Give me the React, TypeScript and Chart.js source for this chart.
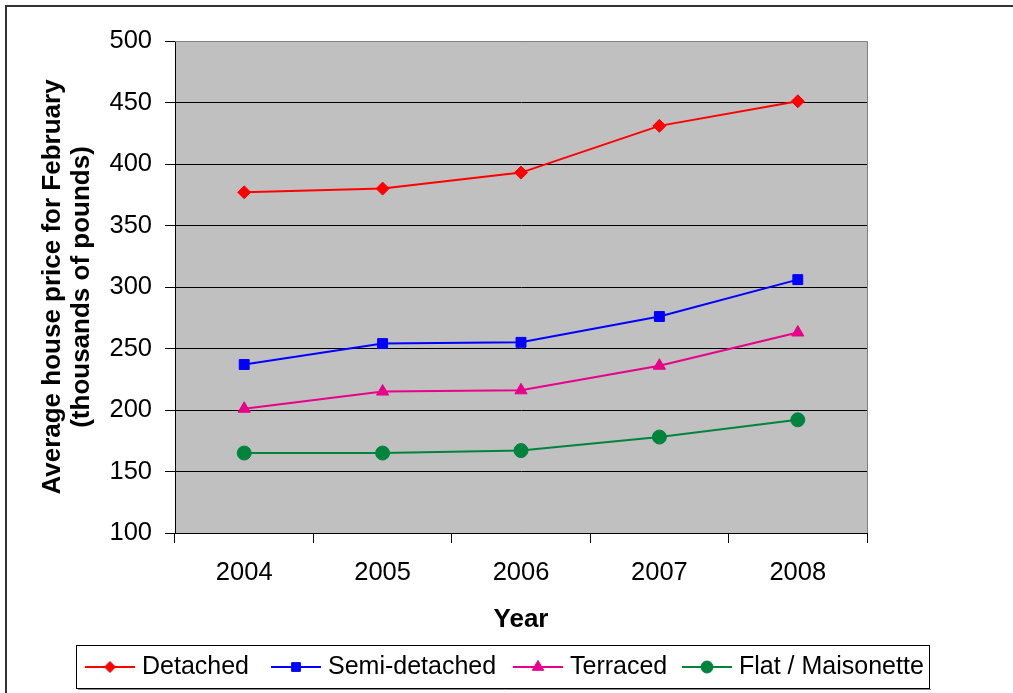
import { useEffect, useRef } from "react";
import { Chart, registerables } from "chart.js";
import { drawPoint } from "chart.js/helpers";

Chart.register(...registerables);

// Average February house prices, thousands of pounds
const years = ["2004", "2005", "2006", "2007", "2008"];
const detached = [377, 380, 393, 431, 451];
const semiDetached = [237, 254, 255, 276, 306];
const terraced = [201, 215, 216, 236, 263];
const flatMaisonette = [165, 165, 167, 178, 192];

const seriesNames = ["Detached", "Semi-detached", "Terraced", "Flat / Maisonette"];
const seriesValues = [detached, semiDetached, terraced, flatMaisonette];
const seriesColors = ["#FF0000", "#0000FF", "#E8008B", "#00843D"];
const seriesMarkers = ["rectRot", "rect", "triangle", "circle"];
const markerRadius = [6.5, 7, 7, 7];
const legendMarkerRadius = [5.5, 6.2, 6.6, 6];

const yMin = 100;
const yMax = 500;
const yStep = 50;
const yTitle = ["Average house price for February", "(thousands of pounds)"];
const xTitle = "Year";

const FONT = '"Liberation Sans", Arial, Helvetica, sans-serif';
const W = 1013;
const H = 693;

// Page background, outer frame and the grey plot area
const framePlugin = {
  id: "frame",
  beforeDraw(chart: any) {
    const { ctx, chartArea } = chart;
    ctx.save();
    ctx.fillStyle = "#FFFFFF";
    ctx.fillRect(0, 0, W, H);
    ctx.strokeStyle = "#333333";
    ctx.lineWidth = 2;
    ctx.beginPath();
    ctx.moveTo(6, H);
    ctx.lineTo(6, 6);
    ctx.lineTo(W, 6);
    ctx.stroke();
    ctx.fillStyle = "#C0C0C0";
    ctx.fillRect(chartArea.left, chartArea.top, chartArea.right - chartArea.left, chartArea.bottom - chartArea.top);
    ctx.restore();
  },
  beforeDatasetsDraw(chart: any) {
    const { ctx, chartArea } = chart;
    ctx.save();
    ctx.strokeStyle = "#808080";
    ctx.lineWidth = 1;
    ctx.beginPath();
    ctx.moveTo(chartArea.left, chartArea.top + 0.5);
    ctx.lineTo(chartArea.right + 0.5, chartArea.top + 0.5);
    ctx.lineTo(chartArea.right + 0.5, chartArea.bottom);
    ctx.stroke();
    ctx.restore();
  },
};

// Boxed legend under the axis title: line sample with marker, then the name
const legendItemX = [85, 271, 513, 682];
const legendPlugin = {
  id: "boxLegend",
  afterDraw(chart: any) {
    const { ctx } = chart;
    const y = 667;
    ctx.save();
    ctx.strokeStyle = "#8A8A8A";
    ctx.lineWidth = 1;
    ctx.beginPath();
    ctx.moveTo(78, 689.5);
    ctx.lineTo(931, 689.5);
    ctx.stroke();
    ctx.fillStyle = "#FFFFFF";
    ctx.fillRect(76.5, 645.5, 853, 43);
    ctx.strokeStyle = "#000000";
    ctx.strokeRect(76.5, 645.5, 853, 43);
    chart.data.datasets.forEach((ds: any, i: number) => {
      const x = legendItemX[i];
      ctx.strokeStyle = ds.borderColor;
      ctx.lineWidth = 2;
      ctx.beginPath();
      ctx.moveTo(x, y);
      ctx.lineTo(x + 50, y);
      ctx.stroke();
      ctx.fillStyle = ds.borderColor;
      ctx.lineWidth = 1;
      drawPoint(ctx, { pointStyle: ds.pointStyle, radius: legendMarkerRadius[i], rotation: 0, borderWidth: 1 } as any, x + 25, y);
      ctx.fillStyle = "#000000";
      ctx.font = `25px ${FONT}`;
      ctx.textBaseline = "middle";
      ctx.textAlign = "left";
      ctx.fillText(ds.label, x + 57, y);
    });
    ctx.restore();
  },
};

export default function App() {
  const canvasRef = useRef<HTMLCanvasElement | null>(null);

  useEffect(() => {
    const canvas = canvasRef.current;
    if (!canvas) return;
    const chart = new Chart(canvas, {
      type: "line",
      data: {
        labels: years,
        datasets: seriesNames.map((name, i) => ({
          label: name,
          data: seriesValues[i],
          borderColor: seriesColors[i],
          backgroundColor: seriesColors[i],
          pointBackgroundColor: seriesColors[i],
          pointBorderColor: seriesColors[i],
          pointBorderWidth: 1,
          pointStyle: seriesMarkers[i] as any,
          pointRadius: markerRadius[i],
          borderWidth: 2,
          tension: 0,
          fill: false,
        })),
      },
      options: {
        responsive: false,
        animation: false,
        devicePixelRatio: 1,
        layout: { padding: { top: 41, right: W - 867, bottom: 0, left: 0 } },
        plugins: {
          legend: { display: false },
          tooltip: { enabled: false },
          title: { display: false },
        },
        scales: {
          x: {
            offset: true,
            grid: {
              offset: true,
              drawOnChartArea: false,
              drawTicks: true,
              tickLength: 10,
              color: "#000000",
              tickColor: "#000000",
            },
            border: { display: true, color: "#000000", width: 1 },
            ticks: {
              color: "#000000",
              font: { family: FONT, size: 25.5 },
              padding: 15,
              maxRotation: 0,
              autoSkip: false,
            },
            title: {
              display: true,
              text: xTitle,
              color: "#000000",
              font: { family: FONT, size: 26, weight: "bold" },
              padding: { top: 0, bottom: 57.4 },
            },
            afterFit: (s: any) => {
              s.height = 160;
            },
          },
          y: {
            min: yMin,
            max: yMax,
            grid: {
              color: (c: any) => (c.tick && c.tick.value === yMax ? "#808080" : "#000000"),
              lineWidth: 1,
              drawTicks: true,
              tickLength: 10,
              tickColor: "#000000",
            },
            border: { display: true, color: "#000000", width: 1 },
            ticks: {
              stepSize: yStep,
              color: "#000000",
              font: { family: FONT, size: 25.5 },
              padding: 13,
            },
            title: {
              display: true,
              text: yTitle,
              color: "#000000",
              font: { family: FONT, size: 26, weight: "bold", lineHeight: 1.115 },
              padding: { top: 38.5, bottom: 0 },
            },
            afterFit: (s: any) => {
              s.width = 175;
            },
          },
        },
      },
      plugins: [framePlugin, legendPlugin],
    });
    return () => chart.destroy();
  }, []);

  return (
    <div style={{ position: "fixed", left: 0, top: 0, width: W, height: H, background: "#FFFFFF" }}>
      <canvas ref={canvasRef} width={W} height={H} style={{ display: "block" }} />
    </div>
  );
}
